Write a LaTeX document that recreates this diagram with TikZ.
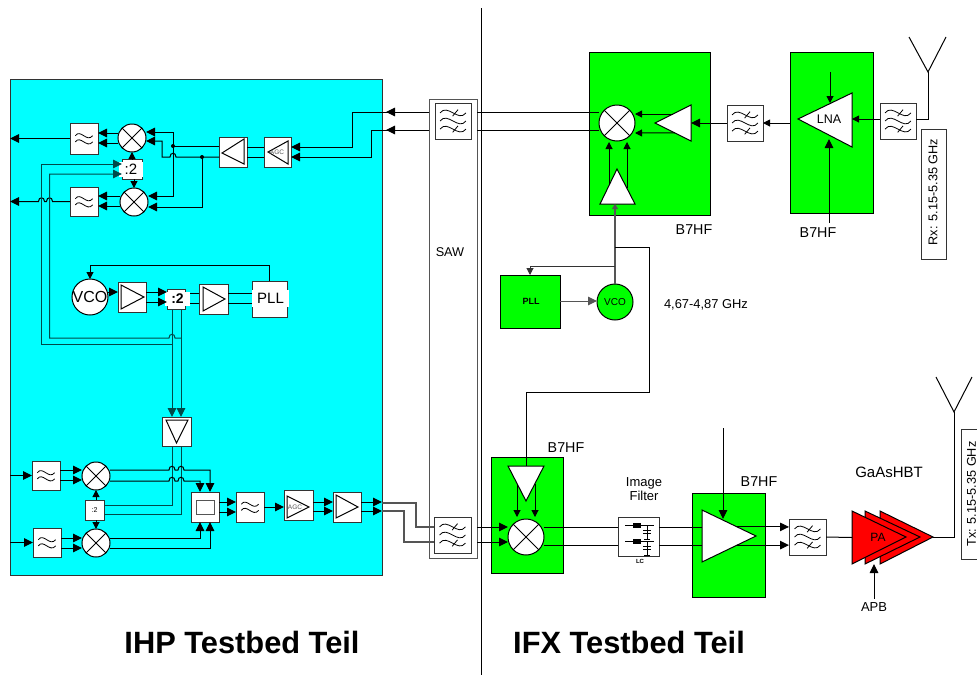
\documentclass[tikz,border=0pt]{standalone}
\usepackage{fontspec}
\setmainfont{Liberation Sans}
\usetikzlibrary{arrows.meta,calc}
\definecolor{cyanfill}{HTML}{00FFFF}
\definecolor{greenfill}{HTML}{00FF00}
\definecolor{redfill}{HTML}{FF0000}
\definecolor{edgegray}{HTML}{333333}
\definecolor{wiregray}{HTML}{555555}
\definecolor{tealwire}{HTML}{004A4A}
\tikzset{
  wire/.style={line width=1pt,draw=black},
  gwire/.style={line width=1.1pt,draw=wiregray},
  arr/.style={wire,-{Triangle[length=9pt,width=8.5pt]}},
  rarr/.style={wire,{Triangle[length=9pt,width=8.5pt]}-},
  sarr/.style={wire,-{Triangle[length=7pt,width=7pt]}},
  blockbox/.style={draw=edgegray,line width=1pt,fill=white,inner sep=0pt,outer sep=0pt},
  mixnode/.style={circle,draw=black,line width=1pt,fill=white,inner sep=0pt,outer sep=0pt},
  trishape/.style={draw=black,line width=1pt,fill=white,line join=miter},
  lab/.style={inner sep=0pt,outer sep=0pt,font=\fontsize{#1}{#1}\selectfont},
  labb/.style={inner sep=0pt,outer sep=0pt,font=\bfseries\fontsize{#1}{#1}\selectfont},
  whitepatch/.style={fill=white,inner sep=0pt,outer sep=0pt},
  sym/.style={line width=.8pt,draw=black},
  dot/.style={circle,fill=black,inner sep=0pt,minimum size=4pt},
}
% name x1 y1 x2 y2 style text
\newcommand\blk[7]{\node[blockbox,#6,minimum width={(#4-#2)*1pt},minimum height={(#5-#3)*1pt}] (#1) at ({(#2+#4)/2},{(#3+#5)/2}) {#7};}
\newcommand\mixer[4]{\node[mixnode,minimum size={2*#4*1pt}] (#1) at (#2,#3) {};
  \draw[wire] (#1.north west) -- (#1.south east) (#1.north east) -- (#1.south west);}
% triangle: name tip base1 base2
\newcommand\tria[5][]{\coordinate (#2-a) at (#3);\coordinate (#2-b) at (#4);\coordinate (#2-c) at (#5);
  \coordinate (#2-m) at ($(#2-b)!.5!(#2-c)$);
  \draw[trishape,#1] (#2-a) -- (#2-b) -- (#2-c) -- cycle;}
\def\hop#1#2{-- (#1-3,#2) .. controls +(0,-5) and +(0,-5) .. (#1+3,#2)}
% three-wave filter symbol
\newcommand\waveone[1]{(-.72,#1) .. controls (-.3,#1-.55) and (.3,#1+.55) .. (.72,#1)}
\newcommand\filtthree[1]{\begin{scope}[shift={(#1.center)},x=18pt,y=-18pt]
  \draw[sym] \waveone{-.45} \waveone{0} \waveone{.45};
  \draw[sym] (-.02,-.27) -- (.28,-.63) (-.02,.63) -- (.28,.27);
  \end{scope}}
\newcommand\filttwo[1]{\begin{scope}[shift={(#1.center)},x=14pt,y=-14pt]
  \draw[sym] (-.62,-.2) .. controls (-.25,-.72) and (.2,.32) .. (.62,-.2);
  \draw[sym] (-.62,.24) .. controls (-.25,-.28) and (.2,.76) .. (.62,.24);
  \end{scope}}
\begin{document}
\begin{tikzpicture}[x=1pt,y=-1pt]
\useasboundingbox (0,0) rectangle (977,675);
\clip (0,0) rectangle (977,675);

% backgrounds
\blk{cyanb}{10}{79}{382}{575}{fill=cyanfill}{}
\blk{saw}{429}{99}{477}{558}{draw=wiregray}{}
\blk{gmix}{589}{52}{710}{215}{fill=greenfill,draw=black}{}
\blk{glna}{790}{52}{873}{213}{fill=greenfill,draw=black}{}
\blk{gtx}{491}{457}{563}{573}{fill=greenfill,draw=black}{}
\blk{gamp}{692}{493}{765}{597}{fill=greenfill,draw=black}{}

% divider line
\coordinate (divt) at (481,8);
\coordinate (divb) at (481,675);
\draw[wire] (divt) -- (divb);

% ---------- IHP receive part
\blk{f1}{70}{123}{98}{154}{}{}\filttwo{f1}
\blk{f2}{70}{187}{98}{216}{}{}\filttwo{f2}
\mixer{m1}{132}{138}{14}
\mixer{m2}{134}{202}{14}
\blk{div1}{122}{159}{142}{179}{}{}
\node[whitepatch,lab=15,fill=white,minimum width=24pt,minimum height=15pt] (div1t) at (131,169.5) {:2};
\blk{a1}{219}{137}{247}{167}{}{}
\tria{a1t}{222,153}{244,139}{244,164}
\blk{a2}{264}{137}{291}{167}{}{}
\tria{a2t}{268,152}{288,141}{288,164}
\node[lab=6.5,text=wiregray] (agc1) at (277,152) {AGC};

\coordinate (j1) at (173,146);
\coordinate (j2) at (202,157);
\draw[arr] (m1.west |- 0,133) -- (f1.east |- 0,133);
\draw[arr] (m1.west |- 0,143) -- (f1.east |- 0,143);
\draw[arr] (m2.west |- 0,196) -- (f2.east |- 0,196);
\draw[arr] (m2.west |- 0,206) -- (f2.east |- 0,206);
\draw[arr] (f1.west) -- (cyanb.west |- f1.west);
\draw[rarr] (cyanb.west |- f2.west) \hop{41.5}{201.5} \hop{49.5}{201.5} -- (f2.west);
\draw[arr] (a1.west |- 0,146) -- (j1) |- (m1.east |- 0,132);
\draw[arr] (j1) |- (m2.east |- 0,196);
\draw[rarr] (m1.east |- 0,141) -- (162,141) -- (162,157) \hop{173}{157} -- (j2) -- (a1.west |- 0,157);
\draw[arr] (j2) |- (m2.east |- 0,207);
\node[dot] (dj1) at (j1) {};
\node[dot] (dj2) at (j2) {};
\draw[wire] (a2.west |- 0,147) -- (a1.east |- 0,147);
\draw[wire] (a2.west |- 0,157) -- (a1.east |- 0,157);
\draw[sarr] (div1.north) -- (m1.south);
\draw[sarr] (div1.south -| m2.north) -- (m2.north);
\draw[rarr] (a2.east |- 0,147) -| (352,112) -- (saw.west |- 0,112);
\draw[rarr] (a2.east |- 0,157) -| (371,130) -- (saw.west |- 0,130);
\coordinate (rxtip1) at (386,112);
\coordinate (rxtip2) at (386,130);
\draw[arr] (saw.west |- 0,112) -- (rxtip1);
\draw[arr] (saw.west |- 0,130) -- (rxtip2);

% ---------- IHP LO part
\node[mixnode,minimum size=36pt] (vco1) at (90,297) {};
\node[lab=16] (vco1t) at (vco1) {VCO};
\blk{a3}{118}{282}{146}{312}{}{}
\tria{a3t}{144,297}{121,285}{121,309}
\blk{div2}{167}{289}{185}{309}{}{}
\node[whitepatch,labb=14,minimum width=25pt,minimum height=14pt] (div2t) at (177.5,299) {:2};
\blk{a4}{199}{284}{228}{314}{}{}
\tria{a4t}{225,299}{203,287}{203,311}
\blk{pll1}{252}{281}{287}{317}{}{}
\node[whitepatch,lab=15,minimum width=37pt,minimum height=17pt] (pll1t) at (270.5,298.5) {PLL};
\draw[arr] (vco1.east |- 0,292) -- (a3.west |- 0,292);
\draw[arr] (a3.east |- 0,292) -- (div2.west |- 0,292);
\draw[arr] (a3.east |- 0,302) -- (div2.west |- 0,302);
\draw[wire] (div2t.east |- 0,293) -- (a4.west |- 0,293);
\draw[wire] (div2t.east |- 0,303) -- (a4.west |- 0,303);
\draw[wire] (a4.east |- 0,293) -- (pll1.west |- 0,293);
\draw[wire] (a4.east |- 0,303) -- (pll1.west |- 0,303);
\draw[sarr] (pll1.north) -- (pll1.north |- 0,265) -| (vco1.north);

\blk{inv}{162}{417}{191}{446}{}{}
\tria{invt}{176.5,443}{166,420}{188,420}
\draw[arr,draw=tealwire] (div2.south -| 172,0) -- (inv.north -| 172,0);
\draw[arr,draw=tealwire] (div2.south -| 181,0) -- (inv.north -| 181,0);
\coordinate (jc1) at (172,344);
\coordinate (jc2) at (181,338);
\draw[arr,draw=tealwire] (jc1) -| (41.5,164) -- (div1.west |- 0,164);
\draw[rarr,draw=tealwire] (div1.west |- 0,174) -- (49.5,174) -- (49.5,338) \hop{172}{338} -- (jc2);

% ---------- IHP transmit part
\blk{ft1}{32}{461}{60}{490}{}{}\filttwo{ft1}
\blk{ft2}{33}{528}{61}{557}{}{}\filttwo{ft2}
\mixer{mt1}{96}{476}{14}
\mixer{mt2}{96}{543}{14}
\blk{div3}{85}{500}{104}{520}{lab=7}{:2}
\blk{bb}{191}{492}{219}{522}{}{}
\node[draw=wiregray,line width=.6pt,fill=white,minimum width=18pt,minimum height=14pt,inner sep=0pt] (bbi) at (bb.center) {};
\blk{f7}{236}{492}{264}{522}{}{}\filttwo{f7}
\blk{a5}{284}{490}{313}{520}{}{}
\tria{a5t}{309,507}{287,496}{287,518}
\node[lab=6.5,text=wiregray] (agc2) at (295,507) {AGC};
\blk{a6}{333}{492}{361}{522}{}{}
\tria{a6t}{358,507}{336,495}{336,518}

\draw[arr] (cyanb.west |- ft1.west) -- (ft1.west);
\draw[arr] (cyanb.west |- ft2.west) -- (ft2.west);
\draw[arr] (ft1.east |- 0,470) -- (mt1.west |- 0,470);
\draw[arr] (ft1.east |- 0,480) -- (mt1.west |- 0,480);
\draw[arr] (ft2.east |- 0,538) -- (mt2.west |- 0,538);
\draw[arr] (ft2.east |- 0,548) -- (mt2.west |- 0,548);
\draw[sarr] (div3.north -| mt1.south) -- (mt1.south);
\draw[sarr] (div3.south -| mt2.north) -- (mt2.north);
\draw[wire,draw=tealwire] (inv.south -| 172,0) |- (div3.east |- 0,505);
\draw[wire,draw=tealwire] (inv.south -| 181,0) |- (div3.east |- 0,514);
\draw[arr] (mt1.east |- 0,470) \hop{172}{470} \hop{181}{470} -- (210,470) -- (bb.north -| 210,0);
\draw[arr] (mt1.east |- 0,481) \hop{172}{481} \hop{181}{481} -- (200,481) -- (bb.north -| 200,0);
\draw[arr] (mt2.east |- 0,538) -| (bb.south -| 200,0);
\draw[arr] (mt2.east |- 0,548) -| (bb.south -| 210,0);
\draw[arr] (bb.east |- 0,502) -- (f7.west |- 0,502);
\draw[arr] (bb.east |- 0,512) -- (f7.west |- 0,512);
\draw[arr] (f7.east) -- (a5.west |- f7.east);
\draw[arr] (a5.east |- 0,502) -- (a6.west |- 0,502);
\draw[arr] (a5.east |- 0,511) -- (a6.west |- 0,511);
\draw[arr] (a6.east |- 0,502) -- (cyanb.east |- 0,502);
\draw[arr] (a6.east |- 0,511) -- (cyanb.east |- 0,511);

% ---------- SAW
\blk{fs1}{435}{103}{471}{139}{}{}\filtthree{fs1}
\blk{fs2}{434}{517}{471}{553}{}{}\filtthree{fs2}
\node[lab=12.7] (sawt) at (450,252) {SAW};
\draw[gwire] (cyanb.east |- 0,503) -- (416,503) -- (416,527) -- (fs2.west |- 0,527);
\draw[gwire] (cyanb.east |- 0,511) -- (404,511) -- (404,542) -- (fs2.west |- 0,542);

% ---------- IFX receive mixer
\mixer{mx1}{617}{123}{18}
\tria{t1}{655,123}{691,105}{691,141}
\tria{t2}{617,169}{600,204}{635,204}
\coordinate (t1u) at ($(t1-a)!.5!(t1-b)$);
\coordinate (t1d) at ($(t1-a)!.55!(t1-c)$);
\coordinate (t2l) at ($(t2-a)!.47!(t2-b)$);
\coordinate (t2r) at ($(t2-a)!.556!(t2-c)$);
\draw[wire] (saw.east |- 0,112) -- (mx1.west |- 0,112);
\draw[wire] (saw.east |- 0,130) -- (mx1.west |- 0,130);
\draw[sarr] (t1u) -- (mx1.east |- 0,114);
\draw[sarr] (t1d) -- (mx1.east |- 0,133);
\draw[sarr] (t2l) -- (t2l |- 0,142);
\draw[sarr] (t2r) -- (t2r |- 0,142);

\blk{f4}{727}{105}{763}{141}{}{}\filtthree{f4}
\draw[arr] (f4.west) -- (t1-b |- f4.west);
\draw[sarr] (glna.west |- f4.east) -- (f4.east);

% LNA
\tria{t5}{798,119}{852,93}{852,147}
\node[lab=12.5] (lnat) at (829,119) {LNA};
\coordinate (lnatop) at (830,72);
\coordinate (lnabot) at (829,223);
\draw[sarr] (lnatop) -- (830,103);
\draw[arr] (lnabot) -- (829,139);
\blk{f6}{880}{103}{916}{139}{}{}\filtthree{f6}
\draw[sarr] (f6.west |- 0,119) -- (t5-b |- 0,119);
\coordinate (ant1) at (928,72);
\coordinate (ant1l) at (909,37);
\coordinate (ant1r) at (946,37);
\draw[wire] (f6.east |- 0,119) -| (ant1);
\draw[wire] (ant1l) -- (ant1) -- (ant1r);
\blk{rx}{921}{129}{946}{259}{}{}
\node[lab=12.7,rotate=90] (rxt) at (933,192) {Rx: 5.15-5.35 GHz};

\node[lab=14.3] (b1) at (694,230) {B7HF};
\node[lab=14.3] (b2) at (818,233) {B7HF};

% PLL / VCO
\blk{pll2}{500}{275}{560}{328}{fill=greenfill,draw=black}{}
\node[labb=9] (pll2t) at (531,301) {PLL};
\node[mixnode,fill=greenfill,minimum size=36pt] (vco2) at (615,302) {};
\node[lab=10] (vco2t) at (vco2) {VCO};
\draw[arr,draw=wiregray] (pll2.east |- 0,301) -- (vco2.west |- 0,301);
\draw[gwire,-{Triangle[length=5pt,width=6pt]},draw=wiregray] (vco2.north) -- (vco2.north |- t2-b);
\draw[sarr,draw=edgegray] (vco2.north |- 0,266) -| (pll2.north);
\node[lab=12.9] (lofreq) at (706,305) {4,67-4,87 GHz};

% ---------- IFX transmit
\tria{t3}{526,501}{508,466}{544,466}
\coordinate (t3l) at ($(t3-a)!.5!(t3-b)$);
\coordinate (t3r) at ($(t3-a)!.5!(t3-c)$);
\mixer{mx3}{526}{537}{18}
\draw[wire] (vco2.north |- 0,247) -- (649,247) -- (649,392) -- (526,392) -- (t3-m);
\draw[sarr] (t3l) -- (t3l |- 0,517);
\draw[sarr] (t3r) -- (t3r |- 0,517);
\draw[arr] (saw.east |- 0,527) -- (mx3.west |- 0,527);
\draw[arr] (saw.east |- 0,542) -- (mx3.west |- 0,542);
\node[lab=14.3] (b3) at (566,448) {B7HF};

\blk{lc}{618}{517}{659}{556}{}{}
\begin{scope}[shift={(lc.center)}]
  \foreach \yy in {-11,5}{
    \draw[wire] (-13.5,\yy) -- (15.5,\yy);
    \fill[black] (-5.5,\yy-2.5) rectangle (2.5,\yy+2.5);
    \draw[wire] (8.5,\yy) -- (8.5,\yy+14);
    \draw[line width=1pt] (4.5,\yy+5) -- (12.5,\yy+5) (4.5,\yy+8) -- (12.5,\yy+8) (5.5,\yy+13.5) -- (11.5,\yy+13.5);
  }
\end{scope}
\node[labb=6] (lct) at (640,561.5) {LC};
\node[lab=13,align=center] (imgf) at (644,489) {Image\\[1.5pt]Filter};
\draw[wire] (mx3.east |- 0,527) -- (lc.west |- 0,527);
\draw[wire] (mx3.east |- 0,545) -- (lc.west |- 0,545);

\tria{t4}{756,536}{702,510}{702,562}
\coordinate (t4u) at ($(t4-a)!.35!(t4-b)$);
\coordinate (t4d) at ($(t4-a)!.35!(t4-c)$);
\draw[wire] (lc.east |- 0,527) -- (t4-b |- 0,527);
\draw[wire] (lc.east |- 0,545) -- (t4-b |- 0,545);
\coordinate (amptop) at (723,428);
\draw[arr] (amptop) -- (723,519);
\node[lab=14.3] (b4) at (759,482) {B7HF};

\blk{f5}{789}{519}{826}{555}{}{}\filtthree{f5}
\draw[arr] (t4u) -- (f5.west |- t4u);
\draw[arr] (t4d) -- (f5.west |- t4d);

% PA
\tria[fill=redfill]{pa3}{933,537}{880,511}{880,564}
\tria[fill=redfill]{pa2}{920,537}{865,511}{865,564}
\tria[fill=redfill]{pa1}{906,537}{852,511}{852,564}
\node[lab=12] (pat) at (878,537) {PA};
\draw[wire] (f5.east) -- (pa1-m);
\coordinate (ant2) at (954,412);
\coordinate (ant2l) at (936,377);
\coordinate (ant2r) at (972,377);
\draw[wire] (pa3-a) -| (ant2);
\draw[wire] (ant2l) -- (ant2) -- (ant2r);
\node[lab=13] (apb) at (874,607) {APB};
\draw[arr] ([yshift=4pt]apb.north) -- (apb.north |- pa1-c);
\node[lab=15] (gaas) at (889,472) {GaAsHBT};
\blk{tx}{961}{429}{995}{559}{}{}
\node[lab=12.7,rotate=90] (txt) at (971.5,494) {Tx: 5.15-5.35 GHz};

% titles
\node[labb=30.8] (ihp) at (242,642) {IHP Testbed Teil};
\node[labb=30.8] (ifx) at (629,642) {IFX Testbed Teil};
\end{tikzpicture}
\end{document}
